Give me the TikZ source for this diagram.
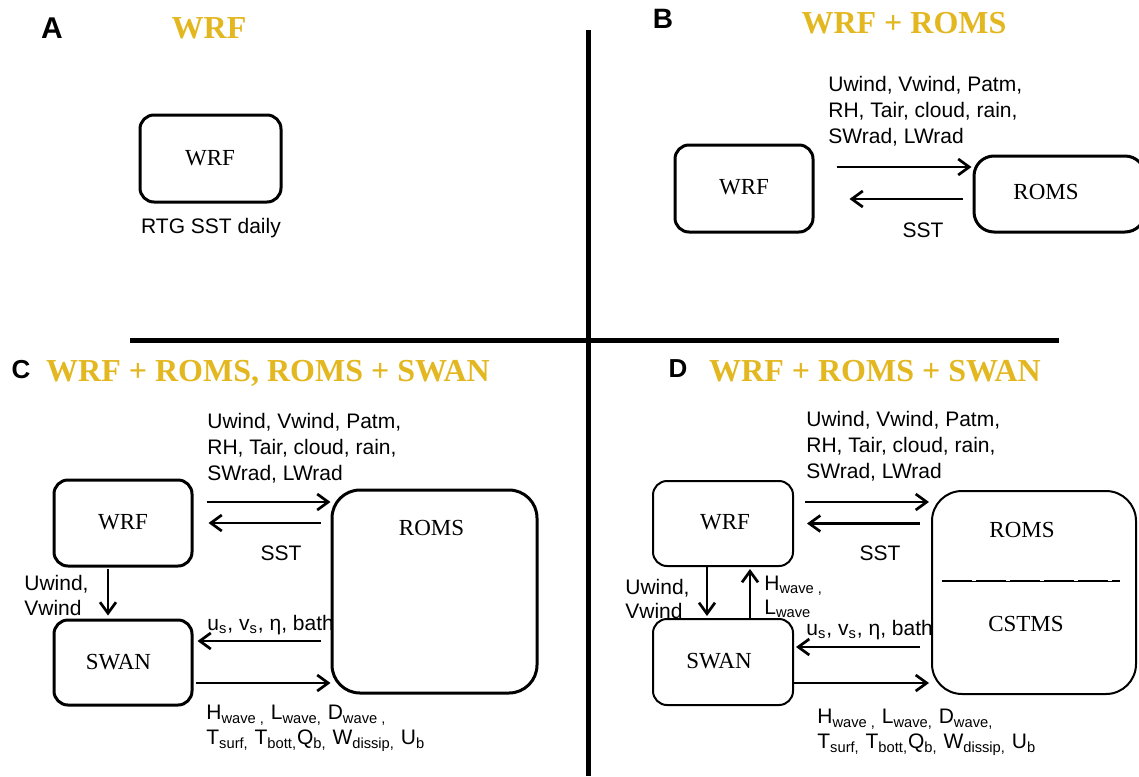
\documentclass[tikz,border=0pt]{standalone}
\usepackage{fontspec}
\setmainfont{Liberation Serif}
\setsansfont{Liberation Sans}
\usetikzlibrary{arrows.meta,calc}
\definecolor{gold}{RGB}{227,183,32}
\begin{document}
\begin{tikzpicture}[x=0.5pt,y=-0.5pt,
  box/.style={draw, line width=1.5pt, rounded corners=7pt, inner sep=0pt},
  thinbox/.style={draw, line width=1pt, rounded corners=7pt, inner sep=0pt},
  arr/.style={line width=1.35pt, -{Straight Barb[length=5.5pt,width=8pt]}},
  lbl/.style={font=\sffamily\fontsize{10.5}{13}\selectfont, inner sep=0pt},
  mdl/.style={font=\rmfamily\fontsize{11.5}{13}\selectfont, inner sep=0pt},
  ttl/.style={font=\rmfamily\bfseries\fontsize{16}{19}\selectfont, text=gold, inner sep=0pt},
  pnl/.style={font=\sffamily\bfseries\fontsize{15}{18}\selectfont, inner sep=0pt},
  divider/.style={line width=2.5pt}]
\useasboundingbox (0,0) rectangle (1139,776);
\fill[white] (0,0) rectangle (1139,776);
\clip (0,0) rectangle (1139,776);

% dividers
\draw[divider] (588,30) -- (588,776);
\draw[divider] (130,340) -- (1059,340);

% ---------- Panel A ----------
\node[pnl, anchor=base] (labA) at (52,38.7) {A};
\node[ttl, anchor=base] (ttlA) at (209,38.5) {WRF};
\node[box, minimum width=70.5pt, minimum height=43.5pt] (wrfA) at (210.5,158.5) {};
\node[mdl, anchor=base] (wrfAt) at (210,165.6) {WRF};
\node[lbl, anchor=base] (rtg) at (211,233.5) {RTG SST daily};

% ---------- Panel B ----------
\node[pnl, anchor=base, font=\sffamily\bfseries\fontsize{14}{17}\selectfont] (labB) at (663,28) {B};
\node[ttl, anchor=base] (ttlB) at (904,33.5) {WRF + ROMS};
\node[box, minimum width=69pt, minimum height=43.5pt] (wrfB) at (744,188.5) {};
\node[box, rounded corners=10pt, minimum width=85.5pt, minimum height=38pt] (romsB) at (1059.5,194) {};
\node[mdl, anchor=base] (wrfBt) at (744,194.6) {WRF};
\node[mdl, anchor=base] (romsBt) at (1046,199.6) {ROMS};
\node[lbl, anchor=north west, align=left] (metB) at (828,76) {Uwind, Vwind, Patm,\\RH, Tair, cloud, rain,\\SWrad, LWrad};
\node[lbl, anchor=base] (sstB) at (923,237.5) {SST};
\draw[arr] ($(wrfB.east)+(22,-21.5)$) -- ($(romsB.west |- wrfB.east)+(-1,-21.5)$);
\draw[arr] ($(romsB.west |- wrfB.east)+(-10,10.5)$) -- ($(wrfB.east)+(35,10.5)$);

% ---------- Panel C ----------
\node[pnl, anchor=base, font=\sffamily\bfseries\fontsize{13}{16}\selectfont] (labC) at (21,378) {C};
\node[ttl, anchor=base] (ttlC) at (268,381.5) {WRF + ROMS, ROMS + SWAN};
\node[box, minimum width=69pt, minimum height=43pt] (wrfC) at (123,523) {};
\node[box, minimum width=69pt, minimum height=42.5pt] (swanC) at (123,662.5) {};
\node[box, rounded corners=14pt, minimum width=102.5pt, minimum height=101.5pt] (romsC) at (434.5,591.5) {};
\node[mdl, anchor=base] (wrfCt) at (123,529.6) {WRF};
\node[mdl, anchor=base] (swanCt) at (118.5,669.6) {SWAN};
\node[mdl, anchor=base] (romsCt) at (431.5,535.6) {ROMS};
\node[lbl, anchor=north west, align=left] (metC) at (207,413) {Uwind, Vwind, Patm,\\RH, Tair, cloud, rain,\\SWrad, LWrad};
\node[lbl, anchor=base] (sstC) at (281,560.5) {SST};
\node[lbl, anchor=north west, align=left, font=\sffamily\fontsize{10.5}{12.5}\selectfont] (windC) at (24,574.5) {Uwind,\\Vwind};
\node[lbl, anchor=base west] (usC) at (207,630.5) {u\textsubscript{s}, v\textsubscript{s}, η, bath};
\node[lbl, anchor=north west, align=left, font=\sffamily\fontsize{10.5}{12.5}\selectfont] (waveC) at (206,705) {H\textsubscript{wave ,} L\textsubscript{wave,} D\textsubscript{wave ,}\\T\textsubscript{surf,} T\textsubscript{bott,}Q\textsubscript{b,} W\textsubscript{dissip,} U\textsubscript{b}};
\draw[arr] ($(wrfC.east)+(13,-21)$) -- ($(romsC.west |- wrfC.east)+(0,-21)$);
\draw[arr] ($(romsC.west |- wrfC.east)+(-10,0)$) -- ($(wrfC.east)+(15,0)$);
\draw[arr] ($(wrfC.south)+(-15,1)$) -- ($(swanC.north)+(-15,-3)$);
\draw[arr] ($(romsC.west |- swanC.east)+(-10,-21.5)$) -- ($(swanC.east)+(4,-21.5)$);
\draw[arr] ($(swanC.east)+(2,20.5)$) -- ($(romsC.west |- swanC.east)+(0,20.5)$);

% ---------- Panel D ----------
\node[pnl, anchor=base, font=\sffamily\bfseries\fontsize{13}{16}\selectfont] (labD) at (678,377) {D};
\node[ttl, anchor=base] (ttlD) at (875,381.5) {WRF + ROMS + SWAN};
\node[thinbox, minimum width=70pt, minimum height=42.5pt] (wrfD) at (723,523.5) {};
\node[thinbox, minimum width=70pt, minimum height=43pt] (swanD) at (723,662) {};
\node[thinbox, rounded corners=15pt, minimum width=102pt, minimum height=101.5pt] (romsD) at (1034,592.5) {};
\node[mdl, anchor=base] (wrfDt) at (725,529.6) {WRF};
\node[mdl, anchor=base] (swanDt) at (719,668.6) {SWAN};
\node[mdl, anchor=base] (romsDt) at (1022,537.6) {ROMS};
\node[mdl, anchor=base] (cstmsD) at (1026,631.6) {CSTMS};
\draw[line width=0.4pt] ($(romsD.west)+(11,-11.5)$) -- ($(romsD.east)+(-17,-11.5)$);
\draw[line width=1pt, dash pattern=on 15pt off 2pt] ($(romsD.west)+(11,-11.5)$) -- ($(romsD.east)+(-17,-11.5)$);
\node[lbl, anchor=north west, align=left] (metD) at (806,411) {Uwind, Vwind, Patm,\\RH, Tair, cloud, rain,\\SWrad, LWrad};
\node[lbl, anchor=base] (sstD) at (880,560.5) {SST};
\node[lbl, anchor=north west, align=left, font=\sffamily\fontsize{10.5}{12}\selectfont] (windD) at (625,578.5) {Uwind,\\Vwind};
\node[lbl, anchor=north west, align=left, font=\sffamily\fontsize{10.5}{12}\selectfont] (hlD) at (764,575.5) {H\textsubscript{wave ,}\\L\textsubscript{wave}};
\node[lbl, anchor=base west] (usD) at (806,635.5) {u\textsubscript{s}, v\textsubscript{s}, η, bath};
\node[lbl, anchor=north west, align=left, font=\sffamily\fontsize{10.5}{12.5}\selectfont] (waveD) at (817,709) {H\textsubscript{wave ,} L\textsubscript{wave,} D\textsubscript{wave,}\\T\textsubscript{surf,} T\textsubscript{bott,}Q\textsubscript{b,} W\textsubscript{dissip,} U\textsubscript{b}};
\draw[arr] ($(wrfD.east)+(11,-21.5)$) -- ($(romsD.west |- wrfD.east)+(-2,-21.5)$);
\draw[arr] ($(romsD.west |- wrfD.east)+(-11,0)$) -- ($(wrfD.east)+(13,0)$);
\draw[arr] ($(wrfD.south)+(-16,0)$) -- ($(swanD.north)+(-16,-2)$);
\draw[arr] ($(swanD.north)+(27,0)$) -- ($(wrfD.south)+(27,2)$);
\draw[arr] ($(romsD.west |- swanD.east)+(-11,-15)$) -- ($(swanD.east)+(2,-15)$);
\draw[arr] ($(swanD.east)+(0,21)$) -- ($(romsD.west |- swanD.east)+(-2,21)$);
\end{tikzpicture}
\end{document}
